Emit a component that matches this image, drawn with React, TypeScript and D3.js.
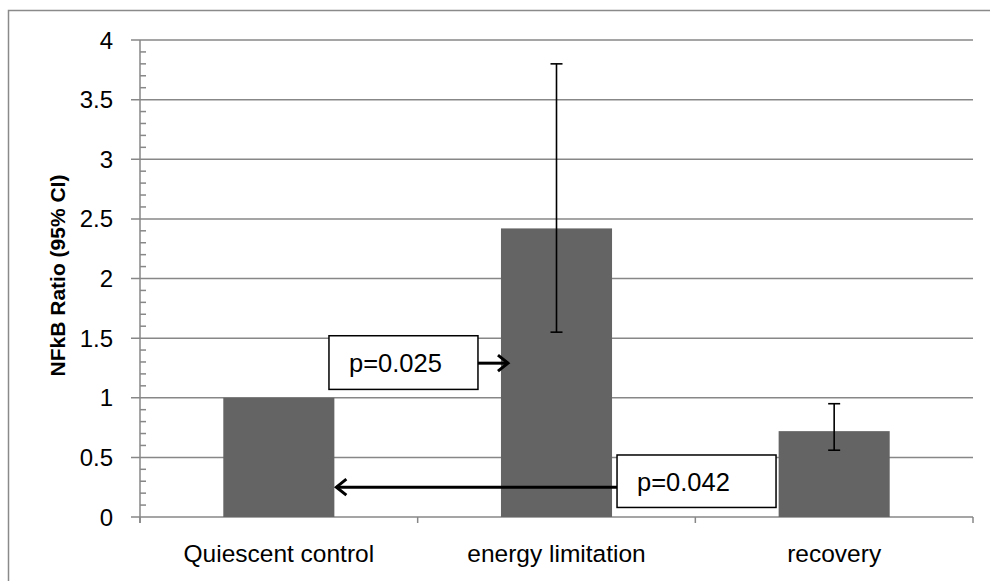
import React from "react";
import * as d3 from "d3";

const categories = ["Quiescent control", "energy limitation", "recovery"];
const values = [1.0, 2.42, 0.72];
const ciLow = [null, 1.55, 0.56];
const ciHigh = [null, 3.8, 0.95];
const yTicks = [0, 0.5, 1, 1.5, 2, 2.5, 3, 3.5, 4];
const pLabels = ["p=0.025", "p=0.042"];
const pArrowY = [1.29, 0.25];
const pBoxY = [[1.07, 1.52], [0.08, 0.52]];

const W = 990, H = 581;
const left = 140, right = 973, top = 40, bottom = 517;
const FONT = "'Liberation Sans', Arial, sans-serif";

export default function App() {
  const x = d3.scaleBand<string>().domain(categories).range([left, right]).paddingInner(0.6).paddingOuter(0.3);
  const y = d3.scaleLinear().domain([0, 4]).range([bottom, top]);
  const step = x.step();
  const bw = x.bandwidth();
  const minor = d3.range(0, 40).map((i) => i / 10).filter((v) => Math.round(v * 10) % 5 !== 0);
  const grid = "#878787";

  const qRight = (x(categories[0]) as number) + bw;
  const eLeft = x(categories[1]) as number;
  const eRight = eLeft + bw;

  return (
    <svg width={W} height={H} style={{ position: "absolute", left: 0, top: 0 }}>
      <rect x={0} y={0} width={W} height={H} fill="#fff" />
      <rect x={8.5} y={10.5} width={W + 20} height={H + 20} fill="none" stroke="#8a8a8a" strokeWidth={1.5} />
      {/* gridlines */}
      {yTicks.map((t) => (
        <line key={t} x1={left - 9} x2={right} y1={y(t)} y2={y(t)} stroke={grid} strokeWidth={1.5} />
      ))}
      {/* minor ticks */}
      {minor.map((t) => (
        <line key={"m" + t} x1={left} x2={left + 6} y1={y(t)} y2={y(t)} stroke={grid} strokeWidth={1.5} />
      ))}
      <line x1={left} x2={left} y1={top} y2={bottom + 6} stroke={grid} strokeWidth={1.5} />
      {d3.range(categories.length + 1).map((i) => (
        <line key={"c" + i} x1={left + i * step} x2={left + i * step} y1={bottom} y2={bottom + 6} stroke={grid} strokeWidth={1.5} />
      ))}
      {/* y tick labels */}
      {yTicks.map((t) => (
        <text key={"l" + t} x={113} y={y(t) + 8.5} textAnchor="end" fontFamily={FONT} fontSize={24} fill="#000">
          {String(t)}
        </text>
      ))}
      {/* bars */}
      {categories.map((c, i) => (
        <rect key={c} x={x(c)} y={y(values[i])} width={bw} height={y(0) - y(values[i])} fill="#646464" />
      ))}
      {/* error bars */}
      {categories.map((c, i) => {
        if (ciLow[i] == null) return null;
        const cx = (x(c) as number) + bw / 2;
        return (
          <g key={"e" + c} stroke="#000" strokeWidth={1.6}>
            <line x1={cx} x2={cx} y1={y(ciLow[i] as number)} y2={y(ciHigh[i] as number)} />
            <line x1={cx - 6} x2={cx + 6} y1={y(ciLow[i] as number)} y2={y(ciLow[i] as number)} />
            <line x1={cx - 6} x2={cx + 6} y1={y(ciHigh[i] as number)} y2={y(ciHigh[i] as number)} />
          </g>
        );
      })}
      {/* category labels */}
      {categories.map((c) => (
        <text key={"t" + c} x={(x(c) as number) + bw / 2} y={562} textAnchor="middle" fontFamily={FONT} fontSize={24.5} fill="#000">
          {c}
        </text>
      ))}
      {/* y title */}
      <text transform={`translate(65,${(top + bottom) / 2 - 3}) rotate(-90)`} textAnchor="middle" fontFamily={FONT} fontWeight="bold" fontSize={21} fill="#000">
        NFkB Ratio (95% CI)
      </text>
      {/* annotation 1 */}
      {(() => {
        const bx1 = eLeft - 172, bx2 = eLeft - 23;
        const ay = y(pArrowY[0]);
        const tip = eLeft + 7;
        return (
          <g>
            <rect x={bx1} y={y(pBoxY[0][1])} width={bx2 - bx1} height={y(pBoxY[0][0]) - y(pBoxY[0][1])} fill="#fff" stroke="#000" strokeWidth={1.5} />
            <text x={bx1 + 20} y={y(pBoxY[0][0]) - 17} fontFamily={FONT} fontSize={25.5} fill="#000">{pLabels[0]}</text>
            <line x1={bx2} x2={tip} y1={ay} y2={ay} stroke="#000" strokeWidth={3} />
            <polyline points={`${tip - 10},${ay - 8} ${tip},${ay} ${tip - 10},${ay + 8}`} fill="none" stroke="#000" strokeWidth={3} />
          </g>
        );
      })()}
      {/* annotation 2 */}
      {(() => {
        const bx1 = eRight + 5, bx2 = eRight + 164;
        const ay = y(pArrowY[1]);
        const tip = qRight + 2;
        return (
          <g>
            <line x1={bx1} x2={tip} y1={ay} y2={ay} stroke="#000" strokeWidth={3} />
            <polyline points={`${tip + 10},${ay - 8} ${tip},${ay} ${tip + 10},${ay + 8}`} fill="none" stroke="#000" strokeWidth={3} />
            <rect x={bx1} y={y(pBoxY[1][1])} width={bx2 - bx1} height={y(pBoxY[1][0]) - y(pBoxY[1][1])} fill="#fff" stroke="#000" strokeWidth={1.5} />
            <text x={bx1 + 20} y={y(pBoxY[1][0]) - 16} fontFamily={FONT} fontSize={25.5} fill="#000">{pLabels[1]}</text>
          </g>
        );
      })()}
    </svg>
  );
}
